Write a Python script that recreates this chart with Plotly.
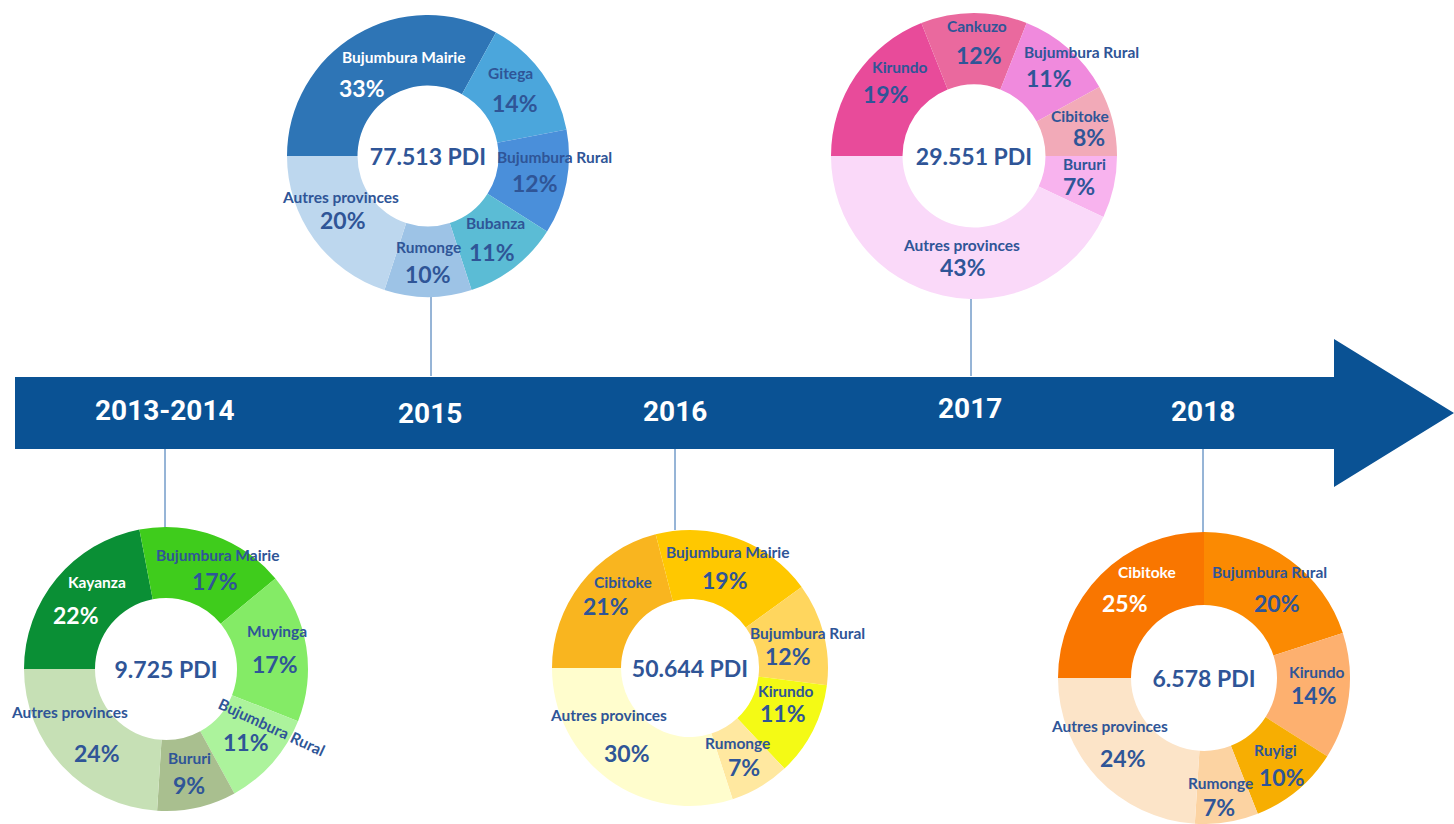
import math
import plotly.graph_objects as go

# ---------------- data ----------------
periods = ["2013-2014", "2015", "2016", "2017", "2018"]
totals = ["9.725 PDI", "77.513 PDI", "50.644 PDI", "29.551 PDI", "6.578 PDI"]

labels_2013 = ["Kayanza", "Bujumbura Mairie", "Muyinga", "Bujumbura Rural", "Bururi", "Autres provinces"]
values_2013 = [22, 17, 17, 11, 9, 24]

labels_2015 = ["Bujumbura Mairie", "Gitega", "Bujumbura Rural", "Bubanza", "Rumonge", "Autres provinces"]
values_2015 = [33, 14, 12, 11, 10, 20]

labels_2016 = ["Cibitoke", "Bujumbura Mairie", "Bujumbura Rural", "Kirundo", "Rumonge", "Autres provinces"]
values_2016 = [21, 19, 12, 11, 7, 30]

labels_2017 = ["Kirundo", "Cankuzo", "Bujumbura Rural", "Cibitoke", "Bururi", "Autres provinces"]
values_2017 = [19, 12, 11, 8, 7, 43]

labels_2018 = ["Cibitoke", "Bujumbura Rural", "Kirundo", "Ruyigi", "Rumonge", "Autres provinces"]
values_2018 = [25, 20, 14, 10, 7, 24]

# ---------------- style ----------------
W, H = 1454, 824
BLUE_TXT = "#2F5597"
ARROW = "#0A5294"
LINE = "#2E6AAE"
FONT = "Lato, 'Open Sans', sans-serif"
YEAR_FONT = "Roboto, 'Open Sans', sans-serif"
NAME_SIZE = 15.5
PCT_SIZE = 23
HOLE = 0.5
START = 270  # first slice starts at 9 o'clock, clockwise

colors_2013 = ["#0A8F35", "#3FCC1C", "#84EB66", "#ACF39C", "#A9BF8F", "#C6E0B5"]
colors_2015 = ["#2E75B6", "#4BA6DC", "#4A8FDA", "#5BBCD5", "#9DC3E6", "#BDD7EE"]
colors_2016 = ["#F9B51F", "#FFC800", "#FFD65E", "#F4FA15", "#FFE8A0", "#FFFDCD"]
colors_2017 = ["#E84B9A", "#EA699E", "#F08ADD", "#F2AAB8", "#F8B3EE", "#FAD9F9"]
colors_2018 = ["#F97600", "#FB8A02", "#FDB06F", "#F7AE02", "#FCD3A2", "#FCE4C8"]

tcol_2013 = ["white"] + [BLUE_TXT] * 5
tcol_2015 = ["white"] + [BLUE_TXT] * 5
tcol_2016 = [BLUE_TXT] * 6
tcol_2017 = [BLUE_TXT] * 6
tcol_2018 = ["white"] + [BLUE_TXT] * 5

# pie placement (pixel centre and radius)
pie_pos = {
    "2013-2014": (166, 669, 142),
    "2015": (428, 156, 141),
    "2016": (690, 668, 138),
    "2017": (974, 156, 143),
    "2018": (1204, 679, 147),
}
year_pos = {
    "2013-2014": (165, 410),
    "2015": (430, 413),
    "2016": (675, 411),
    "2017": (970, 408),
    "2018": (1203, 411),
}
connector = {
    "2013-2014": (165, 449, 528),
    "2015": (431, 297, 376),
    "2016": (675, 449, 530),
    "2017": (971, 297, 376),
    "2018": (1203, 449, 533),
}
# label nudges (name dx, name dy, pct dx, pct dy) relative to the ring-segment centre
nudge = {
    ("2013-2014", "Kayanza"): (13, -4, -8, 2),
    ("2013-2014", "Bujumbura Mairie"): (16, 1, 13, 0),
    ("2013-2014", "Muyinga"): (6, -6, 4, 0),
    ("2013-2014", "Autres provinces"): (-19, -15, 9, -1),
    ("2015", "Bujumbura Mairie"): (30, 7, -12, 11),
    ("2015", "Gitega"): (-3, -6, 1, -3),
    ("2015", "Bujumbura Rural"): (23, -4, 3, -5),
    ("2015", "Bubanza"): (3, -2, -1, 0),
    ("2015", "Autres provinces"): (-2, -6, 1, -10),
    ("2016", "Cibitoke"): (15, -8, -2, -11),
    ("2016", "Bujumbura Mairie"): (3, -4, 0, -3),
    ("2016", "Bujumbura Rural"): (17, 6, -2, 2),
    ("2016", "Kirundo"): (4, -9, 1, -14),
    ("2016", "Rumonge"): (-5, 1, 1, -2),
    ("2016", "Autres provinces"): (-21, -22, -2, -11),
    ("2017", "Kirundo"): (15, -14, 1, -14),
    ("2017", "Cankuzo"): (3, -8, 5, -6),
    ("2017", "Bujumbura Rural"): (37, -9, 4, -10),
    ("2017", "Cibitoke"): (2, 2, 11, -4),
    ("2017", "Bururi"): (6, 0, 0, -5),
    ("2017", "Autres provinces"): (11, -1, 12, -6),
    ("2018", "Cibitoke"): (21, -14, -1, -10),
    ("2018", "Bujumbura Rural"): (1, -3, 8, 1),
    ("2018", "Kirundo"): (4, -6, 1, -10),
    ("2018", "Ruyigi"): (1, 1, 8, 1),
    ("2018", "Rumonge"): (-1, 10, -2, 7),
    ("2018", "Autres provinces"): (-14, -13, -1, -8),
}
# label that is drawn rotated in the original
rotated_name = {("2013-2014", "Bujumbura Rural"): dict(angle=25, dx=26, dy=-12, pdy=3)}

series = [
    ("2013-2014", labels_2013, values_2013, colors_2013, tcol_2013, totals[0]),
    ("2015", labels_2015, values_2015, colors_2015, tcol_2015, totals[1]),
    ("2016", labels_2016, values_2016, colors_2016, tcol_2016, totals[2]),
    ("2017", labels_2017, values_2017, colors_2017, tcol_2017, totals[3]),
    ("2018", labels_2018, values_2018, colors_2018, tcol_2018, totals[4]),
]

fig = go.Figure()
annotations = []


def txt(x, y, s, size, color, angle=0):
    return dict(x=x, y=y, xref="x", yref="y", text=s, showarrow=False, textangle=angle,
                font=dict(family=FONT, size=size, color=color, weight="bold"))


for name, labs, vals, cols, tcols, tot in series:
    cx, cy, r = pie_pos[name]
    x0, x1 = (cx - r) / W, (cx + r) / W
    y0, y1 = 1 - (cy + r) / H, 1 - (cy - r) / H
    fig.add_trace(go.Pie(
        labels=labs, values=vals, name=name,
        hole=HOLE, sort=False, direction="clockwise", rotation=START,
        marker=dict(colors=cols, line=dict(width=0)),
        textinfo="none",
        title=dict(text="<b>" + tot + "</b>", position="middle center",
                   font=dict(family=FONT, size=23, color=BLUE_TXT, weight="bold")),
        domain=dict(x=[max(x0, 0), min(x1, 1)], y=[max(y0, 0), min(y1, 1)]),
        showlegend=False, hoverinfo="label+percent",
    ))
    # data labels at the middle of each ring segment
    total = sum(vals)
    rm = r * (1 + HOLE) / 2
    cum = 0
    for lab, v, tc in zip(labs, vals, tcols):
        mid = math.radians(START + (cum + v / 2) / total * 360)
        cum += v
        mx = cx + rm * math.sin(mid)
        my = cy - rm * math.cos(mid)
        pct = "%d%%" % round(v / total * 100)
        key = (name, lab)
        if key in rotated_name:
            t = rotated_name[key]
            annotations.append(txt(mx + t["dx"], my + t["dy"], lab, NAME_SIZE, tc, t["angle"]))
            annotations.append(txt(mx, my + t["pdy"], pct, PCT_SIZE, tc))
        else:
            ndx, ndy, pdx, pdy = nudge.get(key, (0, 0, 0, 0))
            annotations.append(txt(mx + ndx, my - 15 + ndy, lab, NAME_SIZE, tc))
            annotations.append(txt(mx + pdx, my + 12 + pdy, pct, PCT_SIZE, tc))

shapes = []
# timeline arrow
arrow_path = "M 15 377 L 1334 377 L 1334 339 L 1454 413 L 1334 487 L 1334 449 L 15 449 Z"
shapes.append(dict(type="path", path=arrow_path, xref="x", yref="y",
                   fillcolor=ARROW, line=dict(width=0), layer="below"))
for p in periods:
    x, ya, yb = connector[p]
    shapes.append(dict(type="line", x0=x, x1=x, y0=ya, y1=yb, xref="x", yref="y",
                       line=dict(color=LINE, width=1), layer="below"))

for p in periods:
    x, y = year_pos[p]
    annotations.append(dict(x=x, y=y, xref="x", yref="y", text="<b>" + p + "</b>",
                            showarrow=False,
                            font=dict(family=YEAR_FONT, size=28, color="white")))

fig.update_layout(
    width=W, height=H,
    margin=dict(l=0, r=0, t=0, b=0),
    paper_bgcolor="white", plot_bgcolor="white",
    xaxis=dict(range=[0, W], visible=False, fixedrange=True),
    yaxis=dict(range=[H, 0], visible=False, fixedrange=True),
    shapes=shapes, annotations=annotations,
    showlegend=False,
)

fig.write_html("out.html", config={"displayModeBar": False},
               post_script="document.body.style.margin='0';document.body.style.overflow='hidden';")
